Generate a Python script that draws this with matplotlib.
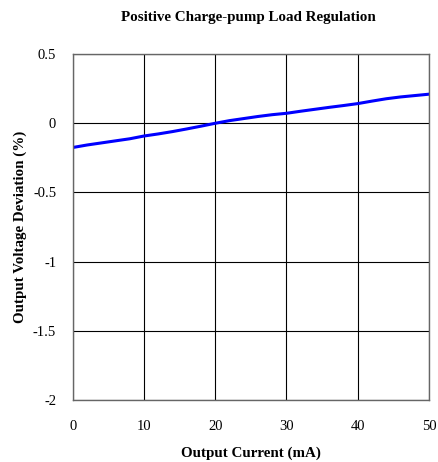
import matplotlib
matplotlib.use("Agg")
import matplotlib.pyplot as plt

current_ma = [0, 2, 4, 6, 8, 10, 12, 14, 16, 18, 20, 22, 24, 26, 28, 30, 32, 34, 36, 38, 40, 42, 44, 46, 48, 50]
deviation_pct = [-0.175, -0.157, -0.142, -0.127, -0.112, -0.092, -0.077, -0.060, -0.041, -0.021, 0.0,
                 0.019, 0.034, 0.049, 0.062, 0.072, 0.087, 0.101, 0.115, 0.128, 0.142, 0.160, 0.177, 0.190, 0.200, 0.210]
xticks = [0, 10, 20, 30, 40, 50]
yticks = [-2, -1.5, -1, -0.5, 0, 0.5]
ytick_labels = ["-2", "-1.5", "-1", "-0.5", "0", "0.5"]

plt.rcParams['font.family'] = ['Liberation Serif', 'DejaVu Serif']

fig = plt.figure(figsize=(4.39, 4.62), dpi=100)
ax = fig.add_axes([0.166, 0.134, 0.811, 0.749])
ax.plot(current_ma, deviation_pct, color='#0000ff', lw=2.2)
ax.set_xlim(0, 50)
ax.set_ylim(-2, 0.5)
ax.set_xticks(xticks)
ax.set_xticklabels([str(v) for v in xticks])
ax.set_yticks(yticks)
ax.set_yticklabels(ytick_labels)
ax.grid(True, color='black', lw=0.8)
for s in ax.spines.values():
    s.set_color('#666666')
    s.set_linewidth(1.0)
ax.tick_params(axis='x', length=0, pad=14, labelsize=10.5)
ax.tick_params(axis='y', length=0, pad=12, labelsize=10.5)
ax.set_xlabel('Output Current (mA)', fontweight='bold', fontsize=10.8, labelpad=10)
ax.set_ylabel('Output Voltage Deviation (%)', fontweight='bold', fontsize=10.8, labelpad=4)
fig.text(0.565, 0.962, 'Positive Charge-pump Load Regulation', ha='center', va='center',
         fontweight='bold', fontsize=10.8)
fig.savefig('out.png', dpi=100)
